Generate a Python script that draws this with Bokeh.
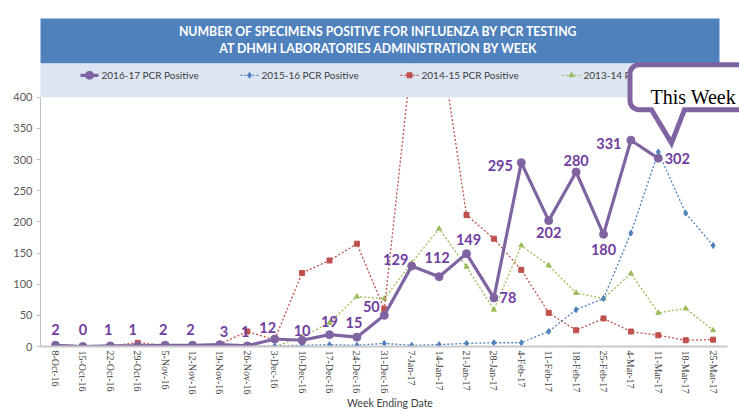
import numpy as np
from bokeh.plotting import figure
from bokeh.models import (ColumnDataSource, FixedTicker, Label, Range1d)
from bokeh.core.properties import value
from bokeh.embed import file_html
from bokeh.resources import INLINE

# ---------------- data ----------------
weeks = ["8-Oct-16", "15-Oct-16", "22-Oct-16", "29-Oct-16", "5-Nov-16",
         "12-Nov-16", "19-Nov-16", "26-Nov-16", "3-Dec-16", "10-Dec-16",
         "17-Dec-16", "24-Dec-16", "31-Dec-16", "7-Jan-17", "14-Jan-17",
         "21-Jan-17", "28-Jan-17", "4-Feb-17", "11-Feb-17", "18-Feb-17",
         "25-Feb-17", "4-Mar-17", "11-Mar-17", "18-Mar-17", "25-Mar-17"]
pcr_2016_17 = [2, 0, 1, 1, 2, 2, 3, 1, 12, 10, 19, 15, 50, 129, 112, 149,
               78, 295, 202, 280, 180, 331, 302]
pcr_2015_16 = [0, 0, 0, 0, 0, 0, 0, 0, 1, 2, 3, 2, 5, 2, 3, 5, 6, 6, 24,
               59, 77, 182, 312, 214, 162]
pcr_2014_15 = [3, 1, 1, 6, 2, 2, 4, 24, 11, 118, 138, 165, 60, 465, 505,
               211, 173, 123, 54, 26, 45, 24, 18, 10, 11]
pcr_2013_14 = [0, 0, 0, 0, 1, 0, 1, 0, 0, 15, 38, 80, 77, 134, 189, 128,
               59, 162, 130, 86, 77, 117, 54, 61, 26]
series_names = ["2016-17 PCR Positive", "2015-16 PCR Positive",
                "2014-15 PCR Positive", "2013-14 PCR Positive"]
y_ticks = [0, 50, 100, 150, 200, 250, 300, 350, 400]
title_lines = ["NUMBER OF SPECIMENS POSITIVE FOR INFLUENZA BY PCR TESTING",
               "AT DHMH LABORATORIES ADMINISTRATION BY WEEK"]
x_title = "Week Ending Date"
callout_text = "This Week"

# label placement (pixel offsets from each 2016-17 point)
label_dx = [0, 0, -2, -5, -2, -2, 4, -2, -7, 0, 0, -3, -13, -16, -2, 2, 14,
            -21, 0, 0, 0, -22, 19]
label_dy = [-16, -17, -16, -16, -16, -16, -13, -14, -12, -10, -13, -15, -9,
            -7, -19, -14, 0, 3, 12, -12, 15, 3, 0]

# ---------------- geometry ----------------
W, H = 739, 412
FRAME_L = 40
PX0, DXPX = 55, 27.4               # px of first category, spacing
Y0PX, PPU = 347, 0.625             # px of y=0, px per unit
FRAME_B = H - Y0PX

def X(rx):   # image px -> data x
    return (rx - PX0) / DXPX

def Y(ry):   # image px -> data y
    return (Y0PX - ry) / PPU

x_start = (FRAME_L - PX0) / DXPX
x_end = (W - PX0) / DXPX
y_end = Y0PX / PPU

p = figure(width=W, height=H, output_backend="svg", toolbar_location=None,
           x_range=Range1d(x_start, x_end), y_range=Range1d(0, y_end),
           min_border_left=FRAME_L, min_border_right=0, min_border_top=0,
           min_border_bottom=FRAME_B, background_fill_color="white",
           border_fill_color="white", outline_line_color=None)
p.grid.visible = False

n = len(weeks)
xi = list(range(n))

PURPLE = "#8064A2"
LABEL_PURPLE = "#7040A0"
BLUE = "#4F81BD"
RED = "#C0504D"
GREEN = "#9BBB59"

# ---------------- series ----------------
styles = [  # (values, color, width, dash, marker, size)
    (pcr_2013_14, GREEN, 1.3, "2 2", "triangle", 5),
    (pcr_2014_15, RED, 1.3, "2 2", "square", 5),
    (pcr_2015_16, BLUE, 1.3, "2 2", "diamond", 6),
    (pcr_2016_17, PURPLE, 3.2, "solid", "circle", 8),
]
for vals, col, lw, dash, mk, sz in styles:
    xs = list(range(len(vals)))
    p.line(xs, vals, line_color=col, line_width=lw, line_dash=dash)
    p.scatter(xs, vals, marker=mk, size=sz, color=col)

# legend band (also clips the plot at 400) + title banner
p.quad(left=[X(36)], right=[X(719)], bottom=[400], top=[Y(63)],
       fill_color="#DCE6F2", line_color=None)
p.quad(left=[X(36)], right=[X(719)], bottom=[Y(63)], top=[Y(18)],
       fill_color="#4F81BD", line_color=None)

for i, t in enumerate(title_lines):
    p.add_layout(Label(x=X(378), y=Y(31 + 17 * i), text=t,
                       text_align="center", text_baseline="middle",
                       text_color="white", text_font="Lato",
                       text_font_style="bold", text_font_size="12.3px"))

# ---------------- legend (drawn in the band) ----------------
leg_x = [80, 240, 400, 562]
leg_order = [3, 2, 1, 0]   # styles index for each legend entry
for k, sx in enumerate(leg_x):
    vals, col, lw, dash, mk, sz = styles[leg_order[k]]
    p.line([X(sx), X(sx + 18)], [Y(75), Y(75)], line_color=col,
           line_width=lw, line_dash=dash)
    p.scatter([X(sx + 9)], [Y(75)], marker=mk, size=sz, color=col)
    p.text(x=[X(sx + 21)], y=[Y(75)], text=[series_names[k]],
           text_align="left", text_baseline="middle",
           text_font=value("Lato"), text_font_size="10px",
           text_color="#404040")

# data labels
px_ = list(range(len(pcr_2016_17)))
lsrc = ColumnDataSource(dict(x=px_, y=pcr_2016_17,
                             t=[str(v) for v in pcr_2016_17],
                             dx=label_dx, dy=label_dy))
p.text(x="x", y="y", text="t", x_offset="dx", y_offset="dy", source=lsrc,
       text_align="center", text_baseline="middle",
       text_font=value("Lato"), text_font_style="bold",
       text_font_size="14.5px", text_color=LABEL_PURPLE)

# ---------------- axes ----------------
xa = p.xaxis[0]
xa.ticker = FixedTicker(ticks=xi)
xa.major_label_overrides = {i: w for i, w in enumerate(weeks)}
xa.major_label_orientation = "vertical"
xa.major_label_text_font = "Liberation Serif"
xa.major_label_text_font_size = "10px"
xa.major_label_text_color = "#404040"
xa.major_label_standoff = 4
xa.major_tick_out = 0
xa.major_tick_in = 0
xa.major_tick_line_color = None
xa.minor_tick_line_color = None
xa.minor_tick_out = 0
xa.axis_line_color = "#C8C8C8"
xa.axis_line_width = 2
xa.bounds = (x_start, X(727))
xa.axis_label = x_title
xa.axis_label_standoff = 0
xa.axis_label_text_font = "Lato"
xa.axis_label_text_font_style = "normal"
xa.axis_label_text_font_size = "10.5px"
xa.axis_label_text_color = "#404040"

ya = p.yaxis[0]
ya.ticker = FixedTicker(ticks=y_ticks)
ya.bounds = (0, 400)
ya.major_label_text_font = "Lato"
ya.major_label_text_font_size = "11px"
ya.major_label_text_color = "#595959"
ya.major_label_standoff = 4
ya.major_tick_out = 4
ya.major_tick_in = 0
ya.major_tick_line_color = "#BFBFBF"
ya.minor_tick_line_color = None
ya.axis_line_color = "#BFBFBF"

# ---------------- callout (drawn last, over the legend) ----------------
L, T, B, R, rad = 629.5, 64.5, 109.5, 780, 9
ang1 = np.linspace(np.pi, 1.5 * np.pi, 8)
ang2 = np.linspace(0.5 * np.pi, np.pi, 8)
cx = ([L + rad + rad * np.cos(a) for a in ang1] +
      [R, R, 684, 671, 651] +
      [L + rad + rad * np.cos(a) for a in ang2])
cy = ([T + rad + rad * np.sin(a) for a in ang1] +
      [T, B, B, 143, B] +
      [B - rad + rad * np.sin(a) for a in ang2])
p.patch([X(v) for v in cx], [Y(v) for v in cy], fill_color="white",
        line_color=PURPLE, line_width=5, line_join="miter")
p.text(x=[X(650)], y=[Y(97)], text=[callout_text], text_align="left",
       text_baseline="alphabetic", text_font=value("Liberation Serif"),
       text_font_size="20px", text_color="black")

open("out.html", "w").write(file_html(p, INLINE))
